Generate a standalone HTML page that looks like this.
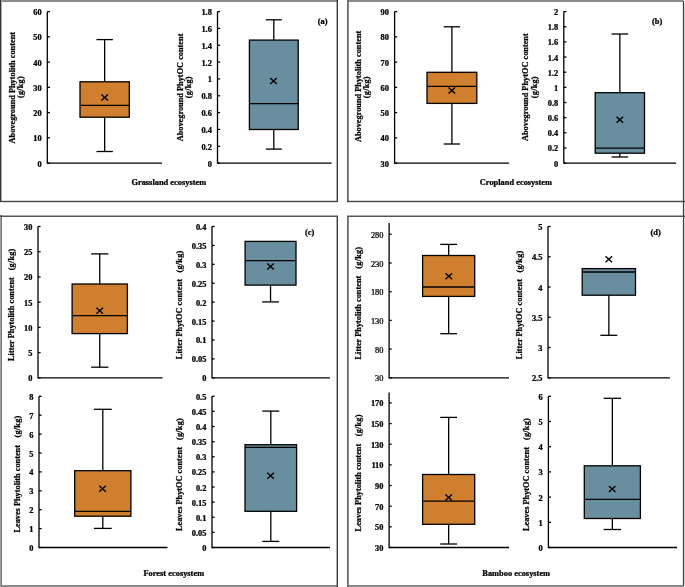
<!DOCTYPE html>
<html><head><meta charset="utf-8"><style>
html,body{margin:0;padding:0;background:#fff;width:685px;height:587px;overflow:hidden}
svg{display:block;will-change:transform}
text{font-family:"Liberation Serif",serif;font-size:8.3px;font-weight:bold;fill:#000;stroke:#000;stroke-width:0.25px}
</style></head><body>
<svg width="685" height="587" viewBox="0 0 685 587">
<rect x="0" y="0" width="337.6" height="2" fill="#8c8c8c"/>
<rect x="347.4" y="0" width="336.2" height="2" fill="#8c8c8c"/>
<rect x="0" y="585" width="337.6" height="2" fill="#8a8a8a"/>
<rect x="347.4" y="585" width="336.2" height="2" fill="#8a8a8a"/>
<rect x="0" y="0" width="1" height="202" fill="#333"/>
<rect x="1" y="0" width="1" height="202" fill="#b0b0b0"/>
<rect x="0" y="215" width="1" height="372" fill="#a0a0a0"/>
<rect x="1" y="215" width="1" height="372" fill="#787878"/>
<rect x="682.9" y="1" width="1.2" height="585" fill="#3c3c3c"/>
<rect x="684.1" y="3" width="0.9" height="582" fill="#d8d8d8"/>
<rect x="336.6" y="0" width="1.4" height="202" fill="#3a3a3a"/>
<rect x="336.6" y="216" width="1.4" height="371" fill="#3a3a3a"/>
<rect x="347" y="0" width="1.8" height="202" fill="#6a6a6a"/>
<rect x="347" y="216" width="1.8" height="371" fill="#6a6a6a"/>
<rect x="0" y="200.8" width="338" height="1.4" fill="#444"/>
<rect x="347" y="200.8" width="338" height="1.4" fill="#444"/>
<rect x="0" y="215.5" width="338" height="1.5" fill="#555"/>
<rect x="347" y="215.5" width="338" height="1.5" fill="#555"/>
<path d="M47.30 11.60 V163.10 H162.00" fill="none" stroke="#000" stroke-width="1.3"/>
<line x1="47.30" y1="163.10" x2="49.90" y2="163.10" stroke="#000" stroke-width="1.3"/>
<text transform="translate(41.70,166.60) scale(1.15,1)" text-anchor="end" style="font-weight:bold;font-size:7.3px">0</text>
<line x1="47.30" y1="137.85" x2="49.90" y2="137.85" stroke="#000" stroke-width="1.3"/>
<text transform="translate(41.70,141.35) scale(1.15,1)" text-anchor="end" style="font-weight:bold;font-size:7.3px">10</text>
<line x1="47.30" y1="112.60" x2="49.90" y2="112.60" stroke="#000" stroke-width="1.3"/>
<text transform="translate(41.70,116.10) scale(1.15,1)" text-anchor="end" style="font-weight:bold;font-size:7.3px">20</text>
<line x1="47.30" y1="87.35" x2="49.90" y2="87.35" stroke="#000" stroke-width="1.3"/>
<text transform="translate(41.70,90.85) scale(1.15,1)" text-anchor="end" style="font-weight:bold;font-size:7.3px">30</text>
<line x1="47.30" y1="62.10" x2="49.90" y2="62.10" stroke="#000" stroke-width="1.3"/>
<text transform="translate(41.70,65.60) scale(1.15,1)" text-anchor="end" style="font-weight:bold;font-size:7.3px">40</text>
<line x1="47.30" y1="36.85" x2="49.90" y2="36.85" stroke="#000" stroke-width="1.3"/>
<text transform="translate(41.70,40.35) scale(1.15,1)" text-anchor="end" style="font-weight:bold;font-size:7.3px">50</text>
<line x1="47.30" y1="11.60" x2="49.90" y2="11.60" stroke="#000" stroke-width="1.3"/>
<text transform="translate(41.70,15.10) scale(1.15,1)" text-anchor="end" style="font-weight:bold;font-size:7.3px">60</text>
<line x1="104.65" y1="39.60" x2="104.65" y2="81.80" stroke="#000" stroke-width="1.3"/>
<line x1="96.45" y1="39.60" x2="112.85" y2="39.60" stroke="#000" stroke-width="1.3"/>
<line x1="104.65" y1="117.20" x2="104.65" y2="151.50" stroke="#000" stroke-width="1.3"/>
<line x1="96.45" y1="151.50" x2="112.85" y2="151.50" stroke="#000" stroke-width="1.3"/>
<rect x="80.00" y="81.80" width="49.30" height="35.40" fill="#CF7F2D" stroke="#000" stroke-width="1.3"/>
<line x1="80.00" y1="105.40" x2="129.30" y2="105.40" stroke="#000" stroke-width="1.3"/>
<path d="M101.40 94.40 L108.00 100.40 M108.00 94.40 L101.40 100.40" stroke="#000" stroke-width="1.4"/>
<path d="M217.50 11.60 V163.10 H331.60" fill="none" stroke="#000" stroke-width="1.3"/>
<line x1="217.50" y1="163.10" x2="220.10" y2="163.10" stroke="#000" stroke-width="1.3"/>
<text transform="translate(211.90,166.60) scale(1.15,1)" text-anchor="end" style="font-weight:bold;font-size:7.3px">0</text>
<line x1="217.50" y1="146.27" x2="220.10" y2="146.27" stroke="#000" stroke-width="1.3"/>
<text transform="translate(211.90,149.77) scale(1.15,1)" text-anchor="end" style="font-weight:bold;font-size:7.3px">0.2</text>
<line x1="217.50" y1="129.43" x2="220.10" y2="129.43" stroke="#000" stroke-width="1.3"/>
<text transform="translate(211.90,132.93) scale(1.15,1)" text-anchor="end" style="font-weight:bold;font-size:7.3px">0.4</text>
<line x1="217.50" y1="112.60" x2="220.10" y2="112.60" stroke="#000" stroke-width="1.3"/>
<text transform="translate(211.90,116.10) scale(1.15,1)" text-anchor="end" style="font-weight:bold;font-size:7.3px">0.6</text>
<line x1="217.50" y1="95.77" x2="220.10" y2="95.77" stroke="#000" stroke-width="1.3"/>
<text transform="translate(211.90,99.27) scale(1.15,1)" text-anchor="end" style="font-weight:bold;font-size:7.3px">0.8</text>
<line x1="217.50" y1="78.93" x2="220.10" y2="78.93" stroke="#000" stroke-width="1.3"/>
<text transform="translate(211.90,82.43) scale(1.15,1)" text-anchor="end" style="font-weight:bold;font-size:7.3px">1</text>
<line x1="217.50" y1="62.10" x2="220.10" y2="62.10" stroke="#000" stroke-width="1.3"/>
<text transform="translate(211.90,65.60) scale(1.15,1)" text-anchor="end" style="font-weight:bold;font-size:7.3px">1.2</text>
<line x1="217.50" y1="45.27" x2="220.10" y2="45.27" stroke="#000" stroke-width="1.3"/>
<text transform="translate(211.90,48.77) scale(1.15,1)" text-anchor="end" style="font-weight:bold;font-size:7.3px">1.4</text>
<line x1="217.50" y1="28.43" x2="220.10" y2="28.43" stroke="#000" stroke-width="1.3"/>
<text transform="translate(211.90,31.93) scale(1.15,1)" text-anchor="end" style="font-weight:bold;font-size:7.3px">1.6</text>
<line x1="217.50" y1="11.60" x2="220.10" y2="11.60" stroke="#000" stroke-width="1.3"/>
<text transform="translate(211.90,15.10) scale(1.15,1)" text-anchor="end" style="font-weight:bold;font-size:7.3px">1.8</text>
<line x1="273.80" y1="19.80" x2="273.80" y2="40.10" stroke="#000" stroke-width="1.3"/>
<line x1="265.80" y1="19.80" x2="281.80" y2="19.80" stroke="#000" stroke-width="1.3"/>
<line x1="273.80" y1="129.50" x2="273.80" y2="149.10" stroke="#000" stroke-width="1.3"/>
<line x1="265.80" y1="149.10" x2="281.80" y2="149.10" stroke="#000" stroke-width="1.3"/>
<rect x="249.40" y="40.10" width="48.80" height="89.40" fill="#688EA0" stroke="#000" stroke-width="1.3"/>
<line x1="249.40" y1="103.70" x2="298.20" y2="103.70" stroke="#000" stroke-width="1.3"/>
<path d="M270.20 78.00 L276.80 84.00 M276.80 78.00 L270.20 84.00" stroke="#000" stroke-width="1.4"/>
<path d="M394.60 11.60 V163.10 H509.10" fill="none" stroke="#000" stroke-width="1.3"/>
<line x1="394.60" y1="163.10" x2="397.20" y2="163.10" stroke="#000" stroke-width="1.3"/>
<text transform="translate(389.00,166.60) scale(1.15,1)" text-anchor="end" style="font-weight:bold;font-size:7.3px">30</text>
<line x1="394.60" y1="137.85" x2="397.20" y2="137.85" stroke="#000" stroke-width="1.3"/>
<text transform="translate(389.00,141.35) scale(1.15,1)" text-anchor="end" style="font-weight:bold;font-size:7.3px">40</text>
<line x1="394.60" y1="112.60" x2="397.20" y2="112.60" stroke="#000" stroke-width="1.3"/>
<text transform="translate(389.00,116.10) scale(1.15,1)" text-anchor="end" style="font-weight:bold;font-size:7.3px">50</text>
<line x1="394.60" y1="87.35" x2="397.20" y2="87.35" stroke="#000" stroke-width="1.3"/>
<text transform="translate(389.00,90.85) scale(1.15,1)" text-anchor="end" style="font-weight:bold;font-size:7.3px">60</text>
<line x1="394.60" y1="62.10" x2="397.20" y2="62.10" stroke="#000" stroke-width="1.3"/>
<text transform="translate(389.00,65.60) scale(1.15,1)" text-anchor="end" style="font-weight:bold;font-size:7.3px">70</text>
<line x1="394.60" y1="36.85" x2="397.20" y2="36.85" stroke="#000" stroke-width="1.3"/>
<text transform="translate(389.00,40.35) scale(1.15,1)" text-anchor="end" style="font-weight:bold;font-size:7.3px">80</text>
<line x1="394.60" y1="11.60" x2="397.20" y2="11.60" stroke="#000" stroke-width="1.3"/>
<text transform="translate(389.00,15.10) scale(1.15,1)" text-anchor="end" style="font-weight:bold;font-size:7.3px">90</text>
<line x1="451.90" y1="26.80" x2="451.90" y2="72.30" stroke="#000" stroke-width="1.3"/>
<line x1="443.70" y1="26.80" x2="460.10" y2="26.80" stroke="#000" stroke-width="1.3"/>
<line x1="451.90" y1="103.40" x2="451.90" y2="144.00" stroke="#000" stroke-width="1.3"/>
<line x1="443.70" y1="144.00" x2="460.10" y2="144.00" stroke="#000" stroke-width="1.3"/>
<rect x="427.00" y="72.30" width="49.80" height="31.10" fill="#CF7F2D" stroke="#000" stroke-width="1.3"/>
<line x1="427.00" y1="86.30" x2="476.80" y2="86.30" stroke="#000" stroke-width="1.3"/>
<path d="M448.50 87.60 L455.10 93.60 M455.10 87.60 L448.50 93.60" stroke="#000" stroke-width="1.4"/>
<path d="M563.80 11.60 V163.10 H676.10" fill="none" stroke="#000" stroke-width="1.3"/>
<line x1="563.80" y1="163.10" x2="566.40" y2="163.10" stroke="#000" stroke-width="1.3"/>
<text transform="translate(558.20,166.60) scale(1.15,1)" text-anchor="end" style="font-weight:bold;font-size:7.3px">0</text>
<line x1="563.80" y1="147.95" x2="566.40" y2="147.95" stroke="#000" stroke-width="1.3"/>
<text transform="translate(558.20,151.45) scale(1.15,1)" text-anchor="end" style="font-weight:bold;font-size:7.3px">0.2</text>
<line x1="563.80" y1="132.80" x2="566.40" y2="132.80" stroke="#000" stroke-width="1.3"/>
<text transform="translate(558.20,136.30) scale(1.15,1)" text-anchor="end" style="font-weight:bold;font-size:7.3px">0.4</text>
<line x1="563.80" y1="117.65" x2="566.40" y2="117.65" stroke="#000" stroke-width="1.3"/>
<text transform="translate(558.20,121.15) scale(1.15,1)" text-anchor="end" style="font-weight:bold;font-size:7.3px">0.6</text>
<line x1="563.80" y1="102.50" x2="566.40" y2="102.50" stroke="#000" stroke-width="1.3"/>
<text transform="translate(558.20,106.00) scale(1.15,1)" text-anchor="end" style="font-weight:bold;font-size:7.3px">0.8</text>
<line x1="563.80" y1="87.35" x2="566.40" y2="87.35" stroke="#000" stroke-width="1.3"/>
<text transform="translate(558.20,90.85) scale(1.15,1)" text-anchor="end" style="font-weight:bold;font-size:7.3px">1</text>
<line x1="563.80" y1="72.20" x2="566.40" y2="72.20" stroke="#000" stroke-width="1.3"/>
<text transform="translate(558.20,75.70) scale(1.15,1)" text-anchor="end" style="font-weight:bold;font-size:7.3px">1.2</text>
<line x1="563.80" y1="57.05" x2="566.40" y2="57.05" stroke="#000" stroke-width="1.3"/>
<text transform="translate(558.20,60.55) scale(1.15,1)" text-anchor="end" style="font-weight:bold;font-size:7.3px">1.4</text>
<line x1="563.80" y1="41.90" x2="566.40" y2="41.90" stroke="#000" stroke-width="1.3"/>
<text transform="translate(558.20,45.40) scale(1.15,1)" text-anchor="end" style="font-weight:bold;font-size:7.3px">1.6</text>
<line x1="563.80" y1="26.75" x2="566.40" y2="26.75" stroke="#000" stroke-width="1.3"/>
<text transform="translate(558.20,30.25) scale(1.15,1)" text-anchor="end" style="font-weight:bold;font-size:7.3px">1.8</text>
<line x1="563.80" y1="11.60" x2="566.40" y2="11.60" stroke="#000" stroke-width="1.3"/>
<text transform="translate(558.20,15.10) scale(1.15,1)" text-anchor="end" style="font-weight:bold;font-size:7.3px">2</text>
<line x1="619.85" y1="34.00" x2="619.85" y2="92.70" stroke="#000" stroke-width="1.3"/>
<line x1="611.55" y1="34.00" x2="628.15" y2="34.00" stroke="#000" stroke-width="1.3"/>
<line x1="619.85" y1="153.20" x2="619.85" y2="157.00" stroke="#000" stroke-width="1.3"/>
<line x1="611.55" y1="157.00" x2="628.15" y2="157.00" stroke="#000" stroke-width="1.3"/>
<rect x="595.20" y="92.70" width="49.30" height="60.50" fill="#688EA0" stroke="#000" stroke-width="1.3"/>
<line x1="595.20" y1="148.20" x2="644.50" y2="148.20" stroke="#000" stroke-width="1.3"/>
<path d="M616.50 116.70 L623.10 122.70 M623.10 116.70 L616.50 122.70" stroke="#000" stroke-width="1.4"/>
<path d="M38.00 226.50 V377.80 H162.50" fill="none" stroke="#000" stroke-width="1.3"/>
<line x1="38.00" y1="377.80" x2="40.60" y2="377.80" stroke="#000" stroke-width="1.3"/>
<text transform="translate(32.40,381.30) scale(1.15,1)" text-anchor="end" style="font-weight:bold;font-size:7.3px">0</text>
<line x1="38.00" y1="352.58" x2="40.60" y2="352.58" stroke="#000" stroke-width="1.3"/>
<text transform="translate(32.40,356.08) scale(1.15,1)" text-anchor="end" style="font-weight:bold;font-size:7.3px">5</text>
<line x1="38.00" y1="327.37" x2="40.60" y2="327.37" stroke="#000" stroke-width="1.3"/>
<text transform="translate(32.40,330.87) scale(1.15,1)" text-anchor="end" style="font-weight:bold;font-size:7.3px">10</text>
<line x1="38.00" y1="302.15" x2="40.60" y2="302.15" stroke="#000" stroke-width="1.3"/>
<text transform="translate(32.40,305.65) scale(1.15,1)" text-anchor="end" style="font-weight:bold;font-size:7.3px">15</text>
<line x1="38.00" y1="276.93" x2="40.60" y2="276.93" stroke="#000" stroke-width="1.3"/>
<text transform="translate(32.40,280.43) scale(1.15,1)" text-anchor="end" style="font-weight:bold;font-size:7.3px">20</text>
<line x1="38.00" y1="251.72" x2="40.60" y2="251.72" stroke="#000" stroke-width="1.3"/>
<text transform="translate(32.40,255.22) scale(1.15,1)" text-anchor="end" style="font-weight:bold;font-size:7.3px">25</text>
<line x1="38.00" y1="226.50" x2="40.60" y2="226.50" stroke="#000" stroke-width="1.3"/>
<text transform="translate(32.40,230.00) scale(1.15,1)" text-anchor="end" style="font-weight:bold;font-size:7.3px">30</text>
<line x1="99.75" y1="253.90" x2="99.75" y2="284.00" stroke="#000" stroke-width="1.3"/>
<line x1="91.15" y1="253.90" x2="108.35" y2="253.90" stroke="#000" stroke-width="1.3"/>
<line x1="99.75" y1="333.60" x2="99.75" y2="367.20" stroke="#000" stroke-width="1.3"/>
<line x1="91.15" y1="367.20" x2="108.35" y2="367.20" stroke="#000" stroke-width="1.3"/>
<rect x="72.10" y="284.00" width="55.30" height="49.60" fill="#CF7F2D" stroke="#000" stroke-width="1.3"/>
<line x1="72.10" y1="315.60" x2="127.40" y2="315.60" stroke="#000" stroke-width="1.3"/>
<path d="M96.40 307.80 L103.00 313.80 M103.00 307.80 L96.40 313.80" stroke="#000" stroke-width="1.4"/>
<path d="M212.00 226.50 V377.80 H329.90" fill="none" stroke="#000" stroke-width="1.3"/>
<line x1="212.00" y1="377.80" x2="214.60" y2="377.80" stroke="#000" stroke-width="1.3"/>
<text transform="translate(206.40,381.30) scale(1.15,1)" text-anchor="end" style="font-weight:bold;font-size:7.3px">0</text>
<line x1="212.00" y1="358.89" x2="214.60" y2="358.89" stroke="#000" stroke-width="1.3"/>
<text transform="translate(206.40,362.39) scale(1.15,1)" text-anchor="end" style="font-weight:bold;font-size:7.3px">0.05</text>
<line x1="212.00" y1="339.98" x2="214.60" y2="339.98" stroke="#000" stroke-width="1.3"/>
<text transform="translate(206.40,343.48) scale(1.15,1)" text-anchor="end" style="font-weight:bold;font-size:7.3px">0.1</text>
<line x1="212.00" y1="321.06" x2="214.60" y2="321.06" stroke="#000" stroke-width="1.3"/>
<text transform="translate(206.40,324.56) scale(1.15,1)" text-anchor="end" style="font-weight:bold;font-size:7.3px">0.15</text>
<line x1="212.00" y1="302.15" x2="214.60" y2="302.15" stroke="#000" stroke-width="1.3"/>
<text transform="translate(206.40,305.65) scale(1.15,1)" text-anchor="end" style="font-weight:bold;font-size:7.3px">0.2</text>
<line x1="212.00" y1="283.24" x2="214.60" y2="283.24" stroke="#000" stroke-width="1.3"/>
<text transform="translate(206.40,286.74) scale(1.15,1)" text-anchor="end" style="font-weight:bold;font-size:7.3px">0.25</text>
<line x1="212.00" y1="264.33" x2="214.60" y2="264.33" stroke="#000" stroke-width="1.3"/>
<text transform="translate(206.40,267.83) scale(1.15,1)" text-anchor="end" style="font-weight:bold;font-size:7.3px">0.3</text>
<line x1="212.00" y1="245.41" x2="214.60" y2="245.41" stroke="#000" stroke-width="1.3"/>
<text transform="translate(206.40,248.91) scale(1.15,1)" text-anchor="end" style="font-weight:bold;font-size:7.3px">0.35</text>
<line x1="212.00" y1="226.50" x2="214.60" y2="226.50" stroke="#000" stroke-width="1.3"/>
<text transform="translate(206.40,230.00) scale(1.15,1)" text-anchor="end" style="font-weight:bold;font-size:7.3px">0.4</text>
<line x1="270.55" y1="285.10" x2="270.55" y2="301.90" stroke="#000" stroke-width="1.3"/>
<line x1="262.15" y1="301.90" x2="278.95" y2="301.90" stroke="#000" stroke-width="1.3"/>
<rect x="245.10" y="241.40" width="50.90" height="43.70" fill="#688EA0" stroke="#000" stroke-width="1.3"/>
<line x1="245.10" y1="260.60" x2="296.00" y2="260.60" stroke="#000" stroke-width="1.3"/>
<path d="M267.20 263.50 L273.80 269.50 M273.80 263.50 L267.20 269.50" stroke="#000" stroke-width="1.4"/>
<path d="M39.00 396.30 V547.50 H167.50" fill="none" stroke="#000" stroke-width="1.3"/>
<line x1="39.00" y1="547.50" x2="41.60" y2="547.50" stroke="#000" stroke-width="1.3"/>
<text transform="translate(33.40,551.00) scale(1.15,1)" text-anchor="end" style="font-weight:bold;font-size:7.3px">0</text>
<line x1="39.00" y1="528.60" x2="41.60" y2="528.60" stroke="#000" stroke-width="1.3"/>
<text transform="translate(33.40,532.10) scale(1.15,1)" text-anchor="end" style="font-weight:bold;font-size:7.3px">1</text>
<line x1="39.00" y1="509.70" x2="41.60" y2="509.70" stroke="#000" stroke-width="1.3"/>
<text transform="translate(33.40,513.20) scale(1.15,1)" text-anchor="end" style="font-weight:bold;font-size:7.3px">2</text>
<line x1="39.00" y1="490.80" x2="41.60" y2="490.80" stroke="#000" stroke-width="1.3"/>
<text transform="translate(33.40,494.30) scale(1.15,1)" text-anchor="end" style="font-weight:bold;font-size:7.3px">3</text>
<line x1="39.00" y1="471.90" x2="41.60" y2="471.90" stroke="#000" stroke-width="1.3"/>
<text transform="translate(33.40,475.40) scale(1.15,1)" text-anchor="end" style="font-weight:bold;font-size:7.3px">4</text>
<line x1="39.00" y1="453.00" x2="41.60" y2="453.00" stroke="#000" stroke-width="1.3"/>
<text transform="translate(33.40,456.50) scale(1.15,1)" text-anchor="end" style="font-weight:bold;font-size:7.3px">5</text>
<line x1="39.00" y1="434.10" x2="41.60" y2="434.10" stroke="#000" stroke-width="1.3"/>
<text transform="translate(33.40,437.60) scale(1.15,1)" text-anchor="end" style="font-weight:bold;font-size:7.3px">6</text>
<line x1="39.00" y1="415.20" x2="41.60" y2="415.20" stroke="#000" stroke-width="1.3"/>
<text transform="translate(33.40,418.70) scale(1.15,1)" text-anchor="end" style="font-weight:bold;font-size:7.3px">7</text>
<line x1="39.00" y1="396.30" x2="41.60" y2="396.30" stroke="#000" stroke-width="1.3"/>
<text transform="translate(33.40,399.80) scale(1.15,1)" text-anchor="end" style="font-weight:bold;font-size:7.3px">8</text>
<line x1="102.80" y1="409.30" x2="102.80" y2="470.70" stroke="#000" stroke-width="1.3"/>
<line x1="93.90" y1="409.30" x2="111.70" y2="409.30" stroke="#000" stroke-width="1.3"/>
<line x1="102.80" y1="516.20" x2="102.80" y2="528.40" stroke="#000" stroke-width="1.3"/>
<line x1="93.90" y1="528.40" x2="111.70" y2="528.40" stroke="#000" stroke-width="1.3"/>
<rect x="74.70" y="470.70" width="56.20" height="45.50" fill="#CF7F2D" stroke="#000" stroke-width="1.3"/>
<line x1="74.70" y1="511.30" x2="130.90" y2="511.30" stroke="#000" stroke-width="1.3"/>
<path d="M99.20 485.80 L105.80 491.80 M105.80 485.80 L99.20 491.80" stroke="#000" stroke-width="1.4"/>
<path d="M212.00 396.30 V547.50 H329.90" fill="none" stroke="#000" stroke-width="1.3"/>
<line x1="212.00" y1="547.50" x2="214.60" y2="547.50" stroke="#000" stroke-width="1.3"/>
<text transform="translate(206.40,551.00) scale(1.15,1)" text-anchor="end" style="font-weight:bold;font-size:7.3px">0</text>
<line x1="212.00" y1="532.38" x2="214.60" y2="532.38" stroke="#000" stroke-width="1.3"/>
<text transform="translate(206.40,535.88) scale(1.15,1)" text-anchor="end" style="font-weight:bold;font-size:7.3px">0.05</text>
<line x1="212.00" y1="517.26" x2="214.60" y2="517.26" stroke="#000" stroke-width="1.3"/>
<text transform="translate(206.40,520.76) scale(1.15,1)" text-anchor="end" style="font-weight:bold;font-size:7.3px">0.1</text>
<line x1="212.00" y1="502.14" x2="214.60" y2="502.14" stroke="#000" stroke-width="1.3"/>
<text transform="translate(206.40,505.64) scale(1.15,1)" text-anchor="end" style="font-weight:bold;font-size:7.3px">0.15</text>
<line x1="212.00" y1="487.02" x2="214.60" y2="487.02" stroke="#000" stroke-width="1.3"/>
<text transform="translate(206.40,490.52) scale(1.15,1)" text-anchor="end" style="font-weight:bold;font-size:7.3px">0.2</text>
<line x1="212.00" y1="471.90" x2="214.60" y2="471.90" stroke="#000" stroke-width="1.3"/>
<text transform="translate(206.40,475.40) scale(1.15,1)" text-anchor="end" style="font-weight:bold;font-size:7.3px">0.25</text>
<line x1="212.00" y1="456.78" x2="214.60" y2="456.78" stroke="#000" stroke-width="1.3"/>
<text transform="translate(206.40,460.28) scale(1.15,1)" text-anchor="end" style="font-weight:bold;font-size:7.3px">0.3</text>
<line x1="212.00" y1="441.66" x2="214.60" y2="441.66" stroke="#000" stroke-width="1.3"/>
<text transform="translate(206.40,445.16) scale(1.15,1)" text-anchor="end" style="font-weight:bold;font-size:7.3px">0.35</text>
<line x1="212.00" y1="426.54" x2="214.60" y2="426.54" stroke="#000" stroke-width="1.3"/>
<text transform="translate(206.40,430.04) scale(1.15,1)" text-anchor="end" style="font-weight:bold;font-size:7.3px">0.4</text>
<line x1="212.00" y1="411.42" x2="214.60" y2="411.42" stroke="#000" stroke-width="1.3"/>
<text transform="translate(206.40,414.92) scale(1.15,1)" text-anchor="end" style="font-weight:bold;font-size:7.3px">0.45</text>
<line x1="212.00" y1="396.30" x2="214.60" y2="396.30" stroke="#000" stroke-width="1.3"/>
<text transform="translate(206.40,399.80) scale(1.15,1)" text-anchor="end" style="font-weight:bold;font-size:7.3px">0.5</text>
<line x1="270.80" y1="411.10" x2="270.80" y2="444.70" stroke="#000" stroke-width="1.3"/>
<line x1="262.30" y1="411.10" x2="279.30" y2="411.10" stroke="#000" stroke-width="1.3"/>
<line x1="270.80" y1="511.30" x2="270.80" y2="541.40" stroke="#000" stroke-width="1.3"/>
<line x1="262.30" y1="541.40" x2="279.30" y2="541.40" stroke="#000" stroke-width="1.3"/>
<rect x="245.00" y="444.70" width="51.60" height="66.60" fill="#688EA0" stroke="#000" stroke-width="1.3"/>
<line x1="245.00" y1="447.30" x2="296.60" y2="447.30" stroke="#000" stroke-width="1.3"/>
<path d="M267.30 472.80 L273.90 478.80 M273.90 472.80 L267.30 478.80" stroke="#000" stroke-width="1.4"/>
<path d="M389.10 223.00 V377.80 H509.00" fill="none" stroke="#000" stroke-width="1.3"/>
<line x1="389.10" y1="377.80" x2="391.70" y2="377.80" stroke="#000" stroke-width="1.3"/>
<text transform="translate(383.50,381.30) scale(1.15,1)" text-anchor="end" style="font-weight:normal;font-size:7.3px">30</text>
<line x1="389.10" y1="349.10" x2="391.70" y2="349.10" stroke="#000" stroke-width="1.3"/>
<text transform="translate(383.50,352.60) scale(1.15,1)" text-anchor="end" style="font-weight:normal;font-size:7.3px">80</text>
<line x1="389.10" y1="320.40" x2="391.70" y2="320.40" stroke="#000" stroke-width="1.3"/>
<text transform="translate(383.50,323.90) scale(1.15,1)" text-anchor="end" style="font-weight:normal;font-size:7.3px">130</text>
<line x1="389.10" y1="291.70" x2="391.70" y2="291.70" stroke="#000" stroke-width="1.3"/>
<text transform="translate(383.50,295.20) scale(1.15,1)" text-anchor="end" style="font-weight:normal;font-size:7.3px">180</text>
<line x1="389.10" y1="263.00" x2="391.70" y2="263.00" stroke="#000" stroke-width="1.3"/>
<text transform="translate(383.50,266.50) scale(1.15,1)" text-anchor="end" style="font-weight:normal;font-size:7.3px">230</text>
<line x1="389.10" y1="234.30" x2="391.70" y2="234.30" stroke="#000" stroke-width="1.3"/>
<text transform="translate(383.50,237.80) scale(1.15,1)" text-anchor="end" style="font-weight:normal;font-size:7.3px">280</text>
<line x1="448.65" y1="244.40" x2="448.65" y2="255.50" stroke="#000" stroke-width="1.3"/>
<line x1="440.25" y1="244.40" x2="457.05" y2="244.40" stroke="#000" stroke-width="1.3"/>
<line x1="448.65" y1="296.40" x2="448.65" y2="333.70" stroke="#000" stroke-width="1.3"/>
<line x1="440.25" y1="333.70" x2="457.05" y2="333.70" stroke="#000" stroke-width="1.3"/>
<rect x="422.60" y="255.50" width="52.10" height="40.90" fill="#CF7F2D" stroke="#000" stroke-width="1.3"/>
<line x1="422.60" y1="287.00" x2="474.70" y2="287.00" stroke="#000" stroke-width="1.3"/>
<path d="M445.50 273.20 L452.10 279.20 M452.10 273.20 L445.50 279.20" stroke="#000" stroke-width="1.4"/>
<path d="M548.00 226.50 V377.80 H669.90" fill="none" stroke="#000" stroke-width="1.3"/>
<line x1="548.00" y1="377.80" x2="550.60" y2="377.80" stroke="#000" stroke-width="1.3"/>
<text transform="translate(542.40,381.30) scale(1.15,1)" text-anchor="end" style="font-weight:bold;font-size:7.3px">2.5</text>
<line x1="548.00" y1="347.54" x2="550.60" y2="347.54" stroke="#000" stroke-width="1.3"/>
<text transform="translate(542.40,351.04) scale(1.15,1)" text-anchor="end" style="font-weight:bold;font-size:7.3px">3</text>
<line x1="548.00" y1="317.28" x2="550.60" y2="317.28" stroke="#000" stroke-width="1.3"/>
<text transform="translate(542.40,320.78) scale(1.15,1)" text-anchor="end" style="font-weight:bold;font-size:7.3px">3.5</text>
<line x1="548.00" y1="287.02" x2="550.60" y2="287.02" stroke="#000" stroke-width="1.3"/>
<text transform="translate(542.40,290.52) scale(1.15,1)" text-anchor="end" style="font-weight:bold;font-size:7.3px">4</text>
<line x1="548.00" y1="256.76" x2="550.60" y2="256.76" stroke="#000" stroke-width="1.3"/>
<text transform="translate(542.40,260.26) scale(1.15,1)" text-anchor="end" style="font-weight:bold;font-size:7.3px">4.5</text>
<line x1="548.00" y1="226.50" x2="550.60" y2="226.50" stroke="#000" stroke-width="1.3"/>
<text transform="translate(542.40,230.00) scale(1.15,1)" text-anchor="end" style="font-weight:bold;font-size:7.3px">5</text>
<line x1="608.85" y1="295.20" x2="608.85" y2="335.30" stroke="#000" stroke-width="1.3"/>
<line x1="600.35" y1="335.30" x2="617.35" y2="335.30" stroke="#000" stroke-width="1.3"/>
<rect x="582.20" y="268.60" width="53.30" height="26.60" fill="#688EA0" stroke="#000" stroke-width="1.3"/>
<line x1="582.20" y1="272.00" x2="635.50" y2="272.00" stroke="#000" stroke-width="1.3"/>
<path d="M605.50 256.30 L612.10 262.30 M612.10 256.30 L605.50 262.30" stroke="#000" stroke-width="1.4"/>
<path d="M389.10 392.50 V547.50 H509.10" fill="none" stroke="#000" stroke-width="1.3"/>
<line x1="389.10" y1="547.50" x2="391.70" y2="547.50" stroke="#000" stroke-width="1.3"/>
<text transform="translate(383.50,551.00) scale(1.15,1)" text-anchor="end" style="font-weight:bold;font-size:7.3px">30</text>
<line x1="389.10" y1="526.84" x2="391.70" y2="526.84" stroke="#000" stroke-width="1.3"/>
<text transform="translate(383.50,530.34) scale(1.15,1)" text-anchor="end" style="font-weight:bold;font-size:7.3px">50</text>
<line x1="389.10" y1="506.18" x2="391.70" y2="506.18" stroke="#000" stroke-width="1.3"/>
<text transform="translate(383.50,509.68) scale(1.15,1)" text-anchor="end" style="font-weight:bold;font-size:7.3px">70</text>
<line x1="389.10" y1="485.52" x2="391.70" y2="485.52" stroke="#000" stroke-width="1.3"/>
<text transform="translate(383.50,489.02) scale(1.15,1)" text-anchor="end" style="font-weight:bold;font-size:7.3px">90</text>
<line x1="389.10" y1="464.86" x2="391.70" y2="464.86" stroke="#000" stroke-width="1.3"/>
<text transform="translate(383.50,468.36) scale(1.15,1)" text-anchor="end" style="font-weight:bold;font-size:7.3px">110</text>
<line x1="389.10" y1="444.20" x2="391.70" y2="444.20" stroke="#000" stroke-width="1.3"/>
<text transform="translate(383.50,447.70) scale(1.15,1)" text-anchor="end" style="font-weight:bold;font-size:7.3px">130</text>
<line x1="389.10" y1="423.54" x2="391.70" y2="423.54" stroke="#000" stroke-width="1.3"/>
<text transform="translate(383.50,427.04) scale(1.15,1)" text-anchor="end" style="font-weight:bold;font-size:7.3px">150</text>
<line x1="389.10" y1="402.88" x2="391.70" y2="402.88" stroke="#000" stroke-width="1.3"/>
<text transform="translate(383.50,406.38) scale(1.15,1)" text-anchor="end" style="font-weight:bold;font-size:7.3px">170</text>
<line x1="448.65" y1="417.40" x2="448.65" y2="474.50" stroke="#000" stroke-width="1.3"/>
<line x1="440.25" y1="417.40" x2="457.05" y2="417.40" stroke="#000" stroke-width="1.3"/>
<line x1="448.65" y1="524.30" x2="448.65" y2="544.00" stroke="#000" stroke-width="1.3"/>
<line x1="440.25" y1="544.00" x2="457.05" y2="544.00" stroke="#000" stroke-width="1.3"/>
<rect x="422.60" y="474.50" width="52.10" height="49.80" fill="#CF7F2D" stroke="#000" stroke-width="1.3"/>
<line x1="422.60" y1="501.10" x2="474.70" y2="501.10" stroke="#000" stroke-width="1.3"/>
<path d="M445.40 494.40 L452.00 500.40 M452.00 494.40 L445.40 500.40" stroke="#000" stroke-width="1.4"/>
<path d="M548.40 396.30 V547.50 H677.10" fill="none" stroke="#000" stroke-width="1.3"/>
<line x1="548.40" y1="547.50" x2="551.00" y2="547.50" stroke="#000" stroke-width="1.3"/>
<text transform="translate(542.80,551.00) scale(1.15,1)" text-anchor="end" style="font-weight:bold;font-size:7.3px">0</text>
<line x1="548.40" y1="522.30" x2="551.00" y2="522.30" stroke="#000" stroke-width="1.3"/>
<text transform="translate(542.80,525.80) scale(1.15,1)" text-anchor="end" style="font-weight:bold;font-size:7.3px">1</text>
<line x1="548.40" y1="497.10" x2="551.00" y2="497.10" stroke="#000" stroke-width="1.3"/>
<text transform="translate(542.80,500.60) scale(1.15,1)" text-anchor="end" style="font-weight:bold;font-size:7.3px">2</text>
<line x1="548.40" y1="471.90" x2="551.00" y2="471.90" stroke="#000" stroke-width="1.3"/>
<text transform="translate(542.80,475.40) scale(1.15,1)" text-anchor="end" style="font-weight:bold;font-size:7.3px">3</text>
<line x1="548.40" y1="446.70" x2="551.00" y2="446.70" stroke="#000" stroke-width="1.3"/>
<text transform="translate(542.80,450.20) scale(1.15,1)" text-anchor="end" style="font-weight:bold;font-size:7.3px">4</text>
<line x1="548.40" y1="421.50" x2="551.00" y2="421.50" stroke="#000" stroke-width="1.3"/>
<text transform="translate(542.80,425.00) scale(1.15,1)" text-anchor="end" style="font-weight:bold;font-size:7.3px">5</text>
<line x1="548.40" y1="396.30" x2="551.00" y2="396.30" stroke="#000" stroke-width="1.3"/>
<text transform="translate(542.80,399.80) scale(1.15,1)" text-anchor="end" style="font-weight:bold;font-size:7.3px">6</text>
<line x1="612.35" y1="398.30" x2="612.35" y2="465.80" stroke="#000" stroke-width="1.3"/>
<line x1="603.65" y1="398.30" x2="621.05" y2="398.30" stroke="#000" stroke-width="1.3"/>
<line x1="612.35" y1="518.50" x2="612.35" y2="529.50" stroke="#000" stroke-width="1.3"/>
<line x1="603.65" y1="529.50" x2="621.05" y2="529.50" stroke="#000" stroke-width="1.3"/>
<rect x="584.30" y="465.80" width="56.10" height="52.70" fill="#688EA0" stroke="#000" stroke-width="1.3"/>
<line x1="584.30" y1="499.40" x2="640.40" y2="499.40" stroke="#000" stroke-width="1.3"/>
<path d="M608.90 486.00 L615.50 492.00 M615.50 486.00 L608.90 492.00" stroke="#000" stroke-width="1.4"/>
<text transform="translate(14.80,143.40) rotate(-90) scale(1,1.0)" text-anchor="start">Aboveground Phytolith content</text>
<text transform="translate(22.50,87.10) rotate(-90) scale(1,1.0)" text-anchor="middle" style="letter-spacing:0.2px">(g/kg)</text>
<text transform="translate(182.80,141.30) rotate(-90) scale(1,1.0)" text-anchor="start">Aboveground PhytOC content</text>
<text transform="translate(190.50,87.20) rotate(-90) scale(1,1.0)" text-anchor="middle" style="letter-spacing:0.2px">(g/kg)</text>
<text transform="translate(361.30,142.10) rotate(-90) scale(1,1.0)" text-anchor="start">Aboveground Phytolith content</text>
<text transform="translate(369.30,87.20) rotate(-90) scale(1,1.0)" text-anchor="middle" style="letter-spacing:0.2px">(g/kg)</text>
<text transform="translate(528.40,141.00) rotate(-90) scale(1,1.0)" text-anchor="start">Aboveground PhytOC content</text>
<text transform="translate(536.70,87.20) rotate(-90) scale(1,1.0)" text-anchor="middle" style="letter-spacing:0.2px">(g/kg)</text>
<text transform="translate(13.80,277.20) rotate(-90) scale(1,1.0)" text-anchor="end">Litter Phytolith content</text>
<text transform="translate(13.80,259.40) rotate(-90) scale(1,1.0)" text-anchor="middle" style="letter-spacing:0.2px">(g/kg)</text>
<text transform="translate(182.30,279.10) rotate(-90) scale(1,1.0)" text-anchor="end">Litter PhytOC content</text>
<text transform="translate(182.30,261.50) rotate(-90) scale(1,1.0)" text-anchor="middle" style="letter-spacing:0.2px">(g/kg)</text>
<text transform="translate(19.50,445.00) rotate(-90) scale(1,1.0)" text-anchor="end">Leaves Phytolith content</text>
<text transform="translate(19.50,426.50) rotate(-90) scale(1,1.0)" text-anchor="middle" style="letter-spacing:0.2px">(g/kg)</text>
<text transform="translate(181.90,447.10) rotate(-90) scale(1,1.0)" text-anchor="end">Leaves PhytOC content</text>
<text transform="translate(181.90,429.00) rotate(-90) scale(1,1.0)" text-anchor="middle" style="letter-spacing:0.2px">(g/kg)</text>
<text transform="translate(360.70,275.70) rotate(-90) scale(1,1.0)" text-anchor="end">Litter Phytolith content</text>
<text transform="translate(360.70,257.70) rotate(-90) scale(1,1.0)" text-anchor="middle" style="letter-spacing:0.2px">(g/kg)</text>
<text transform="translate(522.20,279.10) rotate(-90) scale(1,1.0)" text-anchor="end">Litter PhytOC content</text>
<text transform="translate(522.20,261.50) rotate(-90) scale(1,1.0)" text-anchor="middle" style="letter-spacing:0.2px">(g/kg)</text>
<text transform="translate(361.20,443.80) rotate(-90) scale(1,1.0)" text-anchor="end">Leaves Phytolith content</text>
<text transform="translate(361.20,425.30) rotate(-90) scale(1,1.0)" text-anchor="middle" style="letter-spacing:0.2px">(g/kg)</text>
<text transform="translate(529.00,447.10) rotate(-90) scale(1,1.0)" text-anchor="end">Leaves PhytOC content</text>
<text transform="translate(529.00,429.00) rotate(-90) scale(1,1.0)" text-anchor="middle" style="letter-spacing:0.2px">(g/kg)</text>
<text transform="translate(322.60,24.20) scale(1.15,1)" text-anchor="middle" style="font-size:7.3px">(a)</text>
<text transform="translate(657.20,24.20) scale(1.15,1)" text-anchor="middle" style="font-size:7.3px">(b)</text>
<text transform="translate(309.70,235.00) scale(1.15,1)" text-anchor="middle" style="font-size:7.3px">(c)</text>
<text transform="translate(655.70,234.50) scale(1.15,1)" text-anchor="middle" style="font-size:7.3px">(d)</text>
<text transform="translate(168.80,185.00) scale(1.15,1)" text-anchor="middle" style="font-size:7.3px">Grassland ecosystem</text>
<text transform="translate(515.90,185.20) scale(1.15,1)" text-anchor="middle" style="font-size:7.3px">Cropland ecosystem</text>
<text transform="translate(173.80,576.00) scale(1.15,1)" text-anchor="middle" style="font-size:7.3px">Forest ecosystem</text>
<text transform="translate(516.20,576.00) scale(1.15,1)" text-anchor="middle" style="font-size:7.3px">Bamboo ecosystem</text>
</svg>
</body></html>
